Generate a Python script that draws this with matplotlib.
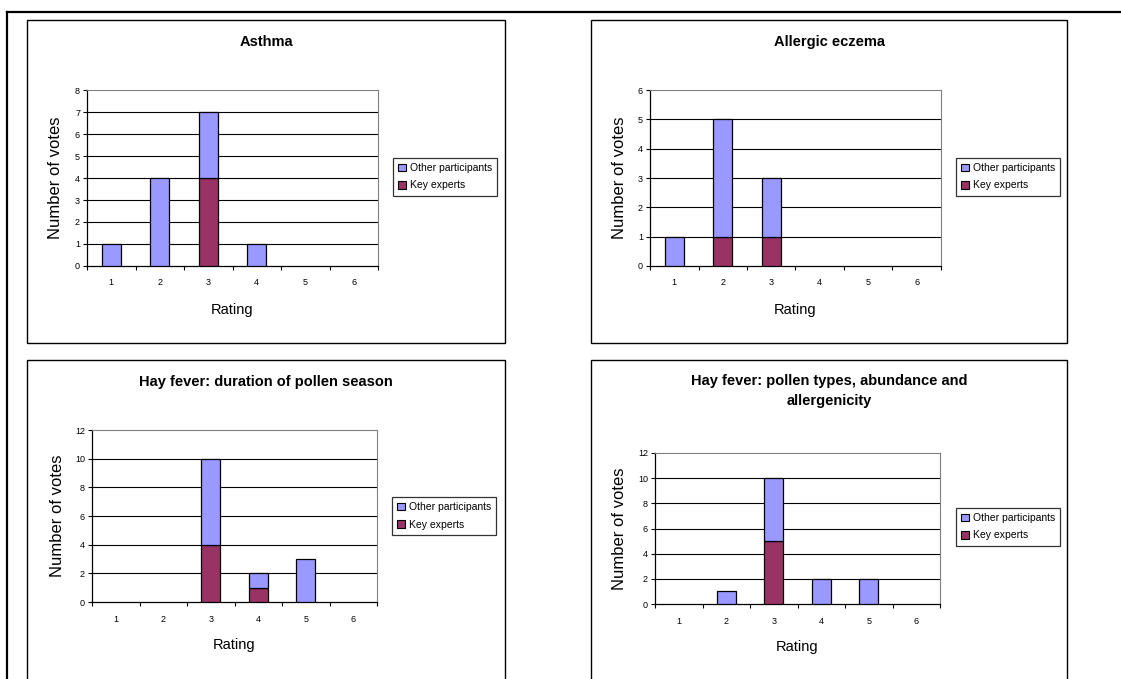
# Four panels of stacked rating votes (key experts vs other participants)
import matplotlib
matplotlib.use('Agg')
import matplotlib.pyplot as plt
from matplotlib.patches import Rectangle, Patch
from matplotlib.lines import Line2D

plt.rcParams['font.family'] = ['Liberation Sans', 'DejaVu Sans']

W, H = 1121, 679

ratings = [1, 2, 3, 4, 5, 6]
titles = ['Asthma', 'Allergic eczema', 'Hay fever: duration of pollen season',
          'Hay fever: pollen types, abundance and\nallergenicity']
key_asthma = [0, 0, 4, 0, 0, 0]
other_asthma = [1, 4, 3, 1, 0, 0]
key_eczema = [0, 1, 1, 0, 0, 0]
other_eczema = [1, 4, 2, 0, 0, 0]
key_duration = [0, 0, 4, 1, 0, 0]
other_duration = [0, 0, 6, 1, 3, 0]
key_types = [0, 0, 5, 0, 0, 0]
other_types = [0, 1, 5, 2, 2, 0]
y_max = [8, 6, 12, 12]
y_step = [1, 1, 2, 2]

key_series = [key_asthma, key_eczema, key_duration, key_types]
other_series = [other_asthma, other_eczema, other_duration, other_types]

c_other = '#9999FF'
c_key = '#993366'

# pixel layouts: panel box, axes box, title y, ylabel x, xlabel y, legend top
panels = [
    dict(box=(27, 20, 505, 343), ax=(87, 90, 378, 266), ty=42, ylx=56, xly=310, leg=(393, 158)),
    dict(box=(591, 20, 1067, 343), ax=(650, 90, 941, 266), ty=42, ylx=620, xly=310, leg=(956, 158)),
    dict(box=(27, 360, 505, 700), ax=(92, 430, 377, 602), ty=382, ylx=57, xly=645, leg=(392, 497)),
    dict(box=(591, 360, 1067, 700), ax=(655, 453, 940, 604), ty=391, ylx=620, xly=647, leg=(956, 508)),
]


def fx(x):
    return x / W


def fy(y):
    return 1 - y / H


fig = plt.figure(figsize=(W / 100, H / 100), dpi=100)

# outer frame
fig.add_artist(Line2D([fx(7), fx(1121)], [fy(12), fy(12)], color='black', lw=1.6))
fig.add_artist(Line2D([fx(7), fx(7)], [fy(12), fy(679)], color='black', lw=1.6))

for i, p in enumerate(panels):
    bx0, by0, bx1, by1 = p['box']
    fig.add_artist(Rectangle((fx(bx0), fy(by1)), fx(bx1 - bx0), (by1 - by0) / H,
                             fill=False, edgecolor='black', lw=1.0))

    x0, y0, x1, y1 = p['ax']
    ax = fig.add_axes([fx(x0), fy(y1), fx(x1 - x0), (y1 - y0) / H])
    key = key_series[i]
    other = other_series[i]
    # skip empty segments so no stub edges are drawn on the axis
    kx = [r for r, k in zip(ratings, key) if k > 0]
    kv = [k for k in key if k > 0]
    ox = [r for r, o in zip(ratings, other) if o > 0]
    ov = [o for o in other if o > 0]
    ob = [k for k, o in zip(key, other) if o > 0]
    ax.bar(kx, kv, width=0.4, color=c_key, edgecolor='black', lw=0.9, zorder=3)
    ax.bar(ox, ov, width=0.4, bottom=ob, color=c_other, edgecolor='black',
           lw=0.9, zorder=3)

    ax.set_xlim(0.5, 6.5)
    ax.set_ylim(0, y_max[i])
    yt = list(range(0, y_max[i] + 1, y_step[i]))
    ax.set_yticks(yt)
    for v in yt[1:-1]:
        ax.axhline(v, color='black', lw=0.8, zorder=1)
    ax.tick_params(axis='y', length=3, width=0.8, pad=2, labelsize=6.5)

    ax.set_xticks([r + 0.5 for r in [0] + ratings])
    ax.set_xticklabels([])
    ax.tick_params(axis='x', which='major', length=3, width=0.8, direction='out')
    ax.set_xticks(ratings, minor=True)
    ax.set_xticklabels([str(r) for r in ratings], minor=True)
    ax.tick_params(axis='x', which='minor', length=0, pad=9, labelsize=6.5)

    for s in ['top', 'right']:
        ax.spines[s].set_color('#808080')
        ax.spines[s].set_linewidth(0.8)
    for s in ['left', 'bottom']:
        ax.spines[s].set_color('black')
        ax.spines[s].set_linewidth(0.9)

    bx_c = (bx0 + bx1) / 2
    fig.text(fx(bx_c), fy(p['ty']), titles[i], ha='center', va='center',
             fontsize=10.5, fontweight='bold', linespacing=1.5)
    fig.text(fx(p['ylx']), fy((y0 + y1) / 2), 'Number of votes', rotation=90,
             ha='center', va='center', fontsize=12)
    fig.text(fx((x0 + x1) / 2), fy(p['xly']), 'Rating', ha='center', va='center',
             fontsize=10.5)

    handles = [Patch(facecolor=c_other, edgecolor='black', lw=0.8),
               Patch(facecolor=c_key, edgecolor='black', lw=0.8)]
    lx, ly = p['leg']
    leg = ax.legend(handles, ['Other participants', 'Key experts'], loc='upper left',
                    bbox_to_anchor=(fx(lx), fy(ly)), bbox_transform=fig.transFigure,
                    fontsize=7.5, frameon=True, fancybox=False, edgecolor='black',
                    handlelength=0.7, handleheight=0.7, handletextpad=0.4,
                    borderpad=0.5, labelspacing=0.7, borderaxespad=0)
    leg.get_frame().set_linewidth(0.9)

fig.savefig('out.png', dpi=100)
